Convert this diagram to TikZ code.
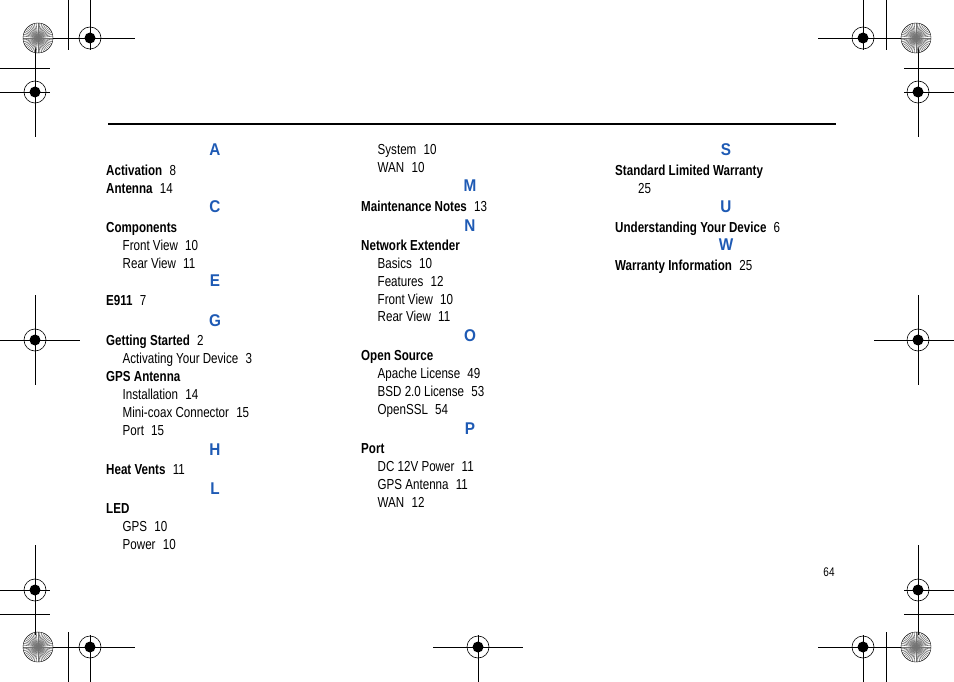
\documentclass[tikz,border=0pt]{standalone}
\usepackage{fontspec}
\setmainfont{Liberation Sans}[FakeStretch=0.8]
\newfontfamily\headfont{Liberation Sans}[FakeStretch=0.9]
\definecolor{idxblue}{RGB}{30,90,180}
\tikzset{
  letter/.style={font=\headfont\bfseries\fontsize{17}{17}\selectfont,text=idxblue,inner sep=0pt,text height=12pt,text depth=0pt},
  main/.style={anchor=west,font=\fontsize{14.5}{14.5}\selectfont,inner sep=0pt,text height=10.5pt,text depth=0pt},
  sub/.style={main,xshift=16.5pt},
}
\newcommand\target[1]{%
  \draw[line width=0.6pt] #1 circle (11);
  \fill #1 circle (5.5);
  \draw[white,line width=0.8pt] #1 ++(-5.5,0) -- ++(11,0) #1 ++(0,-5.5) -- ++(0,11);}
\newcommand\starwheel[1]{%
  \foreach \a in {0,7.5,...,352.5} \draw[line width=0.6pt,black!55] #1 -- ++(\a:15);
  \draw[line width=0.4pt] #1 circle (15);}
\begin{document}
\begin{tikzpicture}[x=1pt,y=-1pt]
\useasboundingbox (0,0) rectangle (954,682);
% crop marks
\foreach \p in {(90,38),(863,38),(35,92),(918,92),(35,340),(918,340),(35,590),(918,590),(90,647),(478,647),(863,647)} {\target{\p}}
\draw (45,38) -- (135,38) (90,0) -- (90,50);
\draw (818,38) -- (908,38) (863,0) -- (863,50);
\draw (0,92) -- (50,92) (35,47) -- (35,137);
\draw (904,92) -- (954,92) (918,47) -- (918,137);
\draw (0,340) -- (80,340) (35,295) -- (35,385);
\draw (874,340) -- (954,340) (918,295) -- (918,385);
\draw (0,590) -- (50,590) (35,545) -- (35,635);
\draw (904,590) -- (954,590) (918,545) -- (918,635);
\draw (45,647) -- (135,647) (90,635) -- (90,682);
\draw (433,647) -- (523,647) (478,635) -- (478,682);
\draw (818,647) -- (908,647) (863,635) -- (863,682);
\draw (68,0) -- (68,50) (0,68) -- (50,68);
\draw (886,0) -- (886,50) (904,68) -- (954,68);
\draw (68,632) -- (68,682) (0,614) -- (50,614);
\draw (886,632) -- (886,682) (904,614) -- (954,614);
\foreach \p in {(38,38),(916,38),(38,647),(916,647)} {\starwheel{\p}}
% top rule
\draw[line width=2pt] (108,124) -- (836,124);
% column 1
\node[letter] (lA) at (215,150) {A};
\node[main] (act) at (106,170) {\textbf{Activation}\enspace 8};
\node[main] (ant) at (106,188) {\textbf{Antenna}\enspace 14};
\node[letter] (lC) at (215,207) {C};
\node[main] (comp) at (106,227) {\textbf{Components}};
\node[sub] (cfv) at (106,245) {Front View\enspace 10};
\node[sub] (crv) at (106,263) {Rear View\enspace 11};
\node[letter] (lE) at (215,281) {E};
\node[main] (e911) at (106,300) {\textbf{E911}\enspace 7};
\node[letter] (lG) at (215,320) {G};
\node[main] (gs) at (106,340) {\textbf{Getting Started}\enspace 2};
\node[sub] (gsa) at (106,358) {Activating Your Device\enspace 3};
\node[main] (gps) at (106,376) {\textbf{GPS Antenna}};
\node[sub] (gpsi) at (106,394) {Installation\enspace 14};
\node[sub] (gpsm) at (106,412) {Mini-coax Connector\enspace 15};
\node[sub] (gpsp) at (106,430) {Port\enspace 15};
\node[letter] (lH) at (215,449) {H};
\node[main] (hv) at (106,469) {\textbf{Heat Vents}\enspace 11};
\node[letter] (lL) at (215,488) {L};
\node[main] (led) at (106,508) {\textbf{LED}};
\node[sub] (ledg) at (106,526) {GPS\enspace 10};
\node[sub] (ledp) at (106,544) {Power\enspace 10};
% column 2
\node[sub] (ledsys) at (361,149) {System\enspace 10};
\node[sub] (ledwan) at (361,167) {WAN\enspace 10};
\node[letter] (lM) at (470,186) {M};
\node[main] (mn) at (361,206) {\textbf{Maintenance Notes}\enspace 13};
\node[letter] (lN) at (470,225) {N};
\node[main] (ne) at (361,245) {\textbf{Network Extender}};
\node[sub] (neb) at (361,263) {Basics\enspace 10};
\node[sub] (nef) at (361,281) {Features\enspace 12};
\node[sub] (nefv) at (361,299) {Front View\enspace 10};
\node[sub] (nerv) at (361,316) {Rear View\enspace 11};
\node[letter] (lO) at (470,335) {O};
\node[main] (os) at (361,355) {\textbf{Open Source}};
\node[sub] (osa) at (361,373) {Apache License\enspace 49};
\node[sub] (osb) at (361,391) {BSD 2.0 License\enspace 53};
\node[sub] (oso) at (361,409) {OpenSSL\enspace 54};
\node[letter] (lP) at (470,428) {P};
\node[main] (port) at (361,448) {\textbf{Port}};
\node[sub] (portdc) at (361,466) {DC 12V Power\enspace 11};
\node[sub] (portg) at (361,484) {GPS Antenna\enspace 11};
\node[sub] (portw) at (361,502) {WAN\enspace 12};
% column 3
\node[letter] (lS) at (726,150) {S};
\node[main] (slw) at (615,170) {\textbf{Standard Limited Warranty}};
\node[main,xshift=23pt] (slwp) at (615,188) {25};
\node[letter] (lU) at (726,207) {U};
\node[main] (uyd) at (615,227) {\textbf{Understanding Your Device}\enspace 6};
\node[letter] (lW) at (726,245) {W};
\node[main] (wi) at (615,265) {\textbf{Warranty Information}\enspace 25};
% page number
\node[font=\fontsize{12.5}{12.5}\selectfont,inner sep=0pt] (pg) at (829,572) {64};
\end{tikzpicture}
\end{document}
